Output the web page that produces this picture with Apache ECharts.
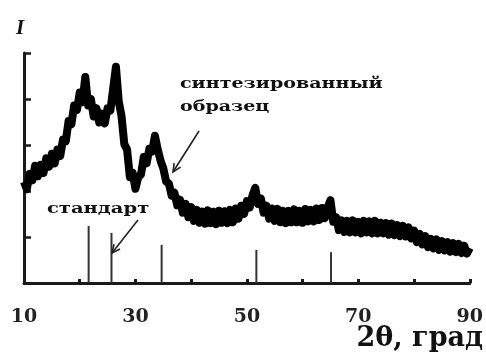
<!DOCTYPE html>
<html>
<head>
<meta charset="utf-8">
<script src="https://cdn.jsdelivr.net/npm/echarts@6/dist/echarts.min.js"></script>
<style>
  html, body { margin: 0; padding: 0; background: #fff; }
  #chart { width: 486px; height: 358px; }
</style>
</head>
<body>
<div id="chart"></div>
<script>
// Diffraction pattern of the synthesized sample, sampled every 0.5° from 10° to 90°
const scanStart = 10;
const scanStep = 0.5;
const sampleIntensity = [
  2.20, 2.04, 2.37, 2.23, 2.55, 2.32, 2.57, 2.39, 2.71, 2.53,
  2.81, 2.60, 2.90, 2.76, 3.12, 3.08, 3.52, 3.45, 3.86, 3.76,
  4.14, 3.93, 4.48, 3.86, 4.00, 3.62, 3.80, 3.49, 3.68, 3.47,
  3.80, 3.75, 4.22, 4.70, 3.95, 3.63, 3.02, 2.90, 2.30, 2.40,
  2.05, 2.30, 2.36, 2.74, 2.60, 2.92, 2.86, 3.20, 2.90, 2.66,
  2.49, 2.21, 2.16, 1.90, 1.96, 1.69, 1.81, 1.53, 1.72, 1.43,
  1.65, 1.35, 1.59, 1.31, 1.55, 1.29, 1.58, 1.30, 1.55, 1.28,
  1.57, 1.31, 1.56, 1.30, 1.59, 1.32, 1.62, 1.40, 1.68, 1.50,
  1.78, 1.64, 1.90, 2.07, 1.72, 1.84, 1.53, 1.68, 1.40, 1.62,
  1.35, 1.61, 1.32, 1.57, 1.30, 1.57, 1.32, 1.60, 1.32, 1.57,
  1.31, 1.61, 1.34, 1.59, 1.34, 1.62, 1.37, 1.63, 1.41, 1.65,
  1.80, 1.33, 1.43, 1.15, 1.36, 1.11, 1.35, 1.10, 1.36, 1.10,
  1.33, 1.08, 1.35, 1.10, 1.34, 1.08, 1.35, 1.08, 1.31, 1.08,
  1.30, 1.05, 1.29, 1.04, 1.26, 1.02, 1.24, 1.01, 1.21, 0.97,
  1.14, 0.89, 1.07, 0.84, 1.02, 0.78, 0.96, 0.75, 0.95, 0.72,
  0.91, 0.71, 0.89, 0.68, 0.87, 0.67, 0.85, 0.65, 0.81, 0.64,
  0.76
];

// Reference (standard) line positions and heights
const standardAngles = [21.6, 25.7, 34.7, 51.7, 65.1];
const standardHeights = [1.24, 1.09, 0.83, 0.72, 0.67];

// Axis labels
const xTickLabels = [10, 30, 50, 70, 90];

const sampleData = sampleIntensity.map((v, i) => [scanStart + i * scanStep, v]);
const standardData = standardAngles.map((a, i) => [a, standardHeights[i]]);

const chart = echarts.init(document.getElementById('chart'), null, { renderer: 'canvas' });

// Annotation arrow: a shaft with an open V head at (x2, y2)
function arrow(x1, y1, x2, y2, headLen, color) {
  const dx = x1 - x2, dy = y1 - y2;
  const len = Math.hypot(dx, dy);
  const ux = dx / len, uy = dy / len;
  const a = 25 * Math.PI / 180;
  const c = Math.cos(a), s = Math.sin(a);
  const h1 = [x2 + headLen * (ux * c - uy * s), y2 + headLen * (ux * s + uy * c)];
  const h2 = [x2 + headLen * (ux * c + uy * s), y2 + headLen * (-ux * s + uy * c)];
  return [
    { type: 'line', shape: { x1, y1, x2, y2 }, style: { stroke: color, lineWidth: 1.6 }, z: 10 },
    { type: 'polyline', shape: { points: [h1, [x2, y2], h2] }, style: { stroke: color, lineWidth: 1.6, fill: null }, z: 10 }
  ];
}

const serif = "'DejaVu Serif', 'Liberation Serif', serif";

chart.setOption({
  backgroundColor: '#fff',
  animation: false,
  grid: { left: 24, right: 16, top: 53, bottom: 75 },
  xAxis: {
    type: 'value',
    min: 10, max: 90, interval: 10,
    axisLine: { lineStyle: { color: '#1a1a1a', width: 3 } },
    axisTick: { inside: true, length: 4, lineStyle: { color: '#1a1a1a', width: 3 } },
    axisLabel: {
      margin: 25,
      color: '#222',
      fontFamily: serif,
      fontWeight: 'bold',
      fontSize: 19,
      formatter: v => (xTickLabels.indexOf(v) >= 0 ? String(v) : '')
    },
    splitLine: { show: false }
  },
  yAxis: {
    type: 'value',
    min: 0, max: 5, interval: 1,
    axisLine: { lineStyle: { color: '#1a1a1a', width: 3 } },
    axisTick: { inside: true, length: 7, lineStyle: { color: '#1a1a1a', width: 2.5 } },
    axisLabel: { show: false },
    splitLine: { show: false }
  },
  series: [
    {
      name: 'стандарт',
      type: 'bar',
      data: standardData,
      barWidth: 2,
      itemStyle: { color: '#333' },
      z: 2
    },
    {
      name: 'синтезированный образец',
      type: 'line',
      data: sampleData,
      symbol: 'none',
      lineStyle: { color: '#000', width: 8, join: 'round' },
      z: 3
    }
  ],
  graphic: [
    { type: 'text', left: 16, top: 18, style: { text: 'I', font: "italic bold 21px 'Liberation Serif', serif", fill: '#111' } },
    { type: 'text', left: 180, top: 77, scaleX: 1.27, style: { text: 'синтезированный', font: "bold 15px " + serif, fill: '#111' } },
    { type: 'text', left: 180, top: 100, scaleX: 1.27, style: { text: 'образец', font: "bold 15px " + serif, fill: '#111' } },
    { type: 'text', left: 47, top: 202, scaleX: 1.3, style: { text: 'стандарт', font: "bold 15px " + serif, fill: '#111' } },
    { type: 'text', right: 3, top: 325, style: { text: '2θ, град', font: "bold 27px " + serif, fill: '#111' } },
    ...arrow(199, 131, 173, 172, 9, '#222'),
    ...arrow(138, 220, 112, 253, 9, '#222')
  ]
});
</script>
</body>
</html>
